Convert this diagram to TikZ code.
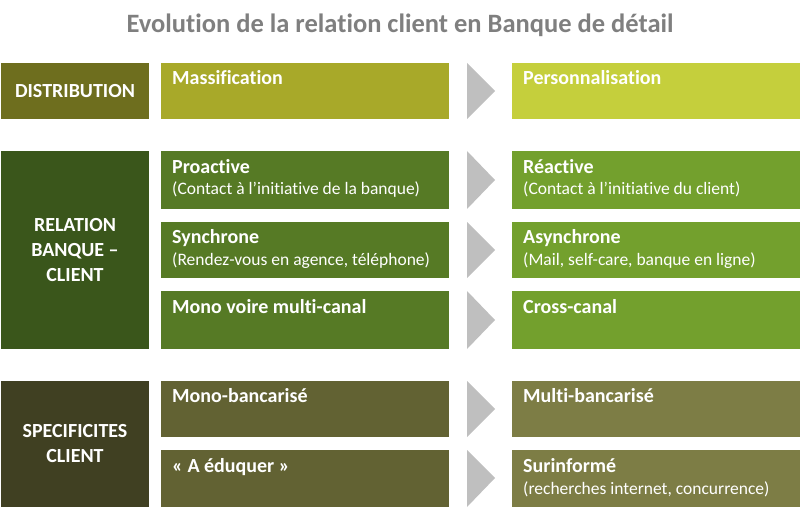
\documentclass[tikz,border=0pt]{standalone}
\usepackage{fontspec}
\setmainfont{Carlito}[Ligatures={NoCommon}]
\definecolor{dl}{HTML}{6E6E1E}\definecolor{dm}{HTML}{A8A929}\definecolor{dr}{HTML}{C5CF3C}
\definecolor{rl}{HTML}{3A561B}\definecolor{rm}{HTML}{567A25}\definecolor{rr}{HTML}{73A02D}
\definecolor{sl}{HTML}{404022}\definecolor{sm}{HTML}{626233}\definecolor{sr}{HTML}{7D7D45}
\definecolor{chev}{HTML}{BFBFBF}\definecolor{ttl}{HTML}{7F7F7F}
\tikzset{x=1pt,y=-1pt,
 lab/.style={anchor=center,text=white,font=\bfseries\fontsize{20}{25}\selectfont,align=center},
 bt/.style={anchor=north west,text=white,font=\bfseries\fontsize{20}{24}\selectfont,inner sep=0},
 st/.style={anchor=north west,text=white,font=\fontsize{17.5}{21}\selectfont,inner sep=0}}
\newcommand{\bx}[5]{\fill[#5] (#1,#3) rectangle (#2,#4);}
\newcommand{\chv}[3]{\fill[chev] (467,#1) -- (495,#2) -- (467,#3) -- cycle;}
\begin{document}
\begin{tikzpicture}
\useasboundingbox (0,0) rectangle (800,513);
\node[text=ttl,font=\bfseries\fontsize{26.5}{30}\selectfont] (title) at (400,25) {Evolution de la relation client en Banque de détail};
% row 1
\bx{1}{149}{63}{119}{dl}\bx{161}{449}{63}{119}{dm}\bx{512}{800}{63}{119}{dr}\chv{63}{91}{119}
\node[lab] (d) at (75,91) {DISTRIBUTION};
\node[bt] (m) at (172,70) {Massification};
\node[bt] (p) at (523,70) {Personnalisation};
% row 2
\bx{1}{149}{151}{349}{rl}
\bx{161}{449}{151}{209}{rm}\bx{512}{800}{151}{209}{rr}\chv{151}{180}{209}
\bx{161}{449}{222}{278}{rm}\bx{512}{800}{222}{278}{rr}\chv{222}{250}{278}
\bx{161}{449}{291}{349}{rm}\bx{512}{800}{291}{349}{rr}\chv{291}{320}{349}
\node[lab] (r) at (75,250) {RELATION\\BANQUE –\\CLIENT};
\node[bt] (a1) at (172,159) {Proactive};
\node[st] (a2) at (172,182) {(Contact à l’initiative de la banque)};
\node[bt] (b1) at (523,159) {Réactive};
\node[st] (b2) at (523,182) {(Contact à l’initiative du client)};
\node[bt] (c1) at (172,229) {Synchrone};
\node[st] (c2) at (172,252) {(Rendez-vous en agence, téléphone)};
\node[bt] (e1) at (523,229) {Asynchrone};
\node[st] (e2) at (523,252) {(Mail, self-care, banque en ligne)};
\node[bt] (f1) at (172,299) {Mono voire multi-canal};
\node[bt] (g1) at (523,299) {Cross-canal};
% row 3
\bx{1}{149}{381}{507}{sl}
\bx{161}{449}{381}{437}{sm}\bx{512}{800}{381}{437}{sr}\chv{381}{409}{437}
\bx{161}{449}{450}{507}{sm}\bx{512}{800}{450}{507}{sr}\chv{450}{478}{507}
\node[lab] (s) at (75,444) {SPECIFICITES\\CLIENT};
\node[bt] (h1) at (172,388) {Mono-bancarisé};
\node[bt] (i1) at (523,388) {Multi-bancarisé};
\node[bt] (j1) at (172,458) {« A éduquer »};
\node[bt] (k1) at (523,458) {Surinformé};
\node[st] (k2) at (523,481) {(recherches internet, concurrence)};
\end{tikzpicture}
\end{document}
